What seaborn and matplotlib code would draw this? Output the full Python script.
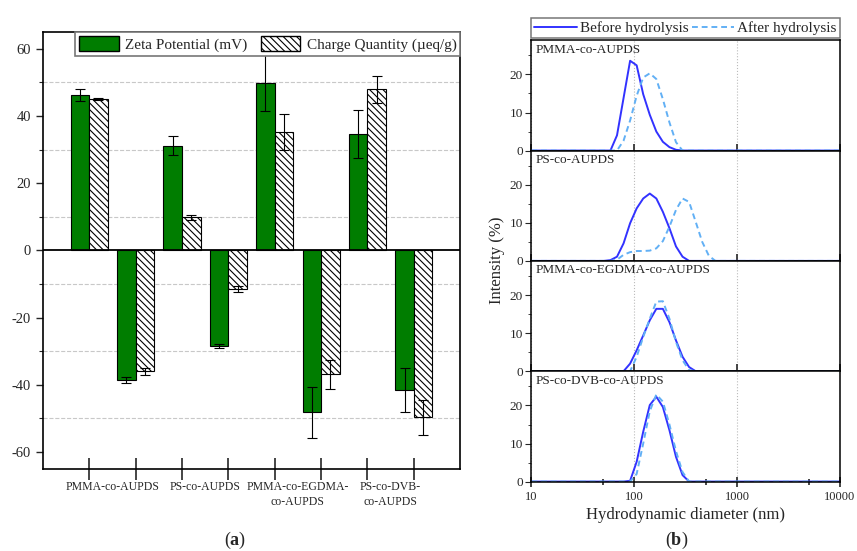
import matplotlib
matplotlib.use("Agg")
import numpy as np
import pandas as pd
import matplotlib.pyplot as plt
import seaborn as sns
from matplotlib.patches import Patch
from matplotlib.lines import Line2D
from matplotlib.ticker import MultipleLocator, FixedLocator, NullFormatter, FuncFormatter

# --- (a) zeta potential / charge quantity ---
materials = ["PMMA-co-AUPDS", "PS-co-AUPDS", "PMMA-co-EGDMA-\nco-AUPDS", "PS-co-DVB-\nco-AUPDS"]
samples = ["PMMA+", "PMMA-", "PS+", "PS-", "EGDMA+", "EGDMA-", "DVB+", "DVB-"]
zeta = [46.2, -38.6, 31.1, -28.4, 49.7, -48.2, 34.7, -41.5]
zeta_err = [1.7, 0.9, 2.8, 0.7, 8.3, 7.7, 7.2, 6.6]
charge = [45.1, -36.0, 9.8, -11.4, 35.3, -36.9, 47.9, -49.7]
charge_err = [0.3, 1.1, 0.8, 0.9, 5.3, 4.3, 4.0, 5.1]

# --- (b) DLS size distributions ---
panel_names = ["PMMA-co-AUPDS", "PS-co-AUPDS", "PMMA-co-EGDMA-co-AUPDS", "PS-co-DVB-co-AUPDS"]
sizes = [10, 50.75, 58.77, 68.06, 78.82, 91.28, 105.7, 122.4, 141.8, 164.2, 190.1,
         220.2, 255.0, 295.3, 342.0, 396.1, 458.7, 531.2, 615.1, 10000]
before = [
    [0, 0, 0, 4.0, 13.8, 23.6, 22.4, 14.8, 9.4, 5.0, 2.3, 0.9, 0.2, 0, 0, 0, 0, 0, 0, 0],
    [0, 0, 0.2, 1.1, 4.6, 9.9, 13.8, 16.4, 17.7, 16.4, 12.9, 8.6, 3.8, 1.1, 0, 0, 0, 0, 0, 0],
    [0, 0, 0, 0, 0, 2.0, 5.5, 9.4, 13.4, 16.4, 16.4, 12.9, 8.1, 3.8, 1.1, 0, 0, 0, 0, 0],
    [0, 0, 0, 0, 0, 0.2, 5.2, 13.1, 20.1, 22.3, 19.6, 13.5, 6.5, 1.7, 0, 0, 0, 0, 0, 0],
]
after = [
    [0, 0, 0, 0, 2.6, 7.9, 14.4, 19.2, 20.3, 18.8, 13.5, 7.4, 2.2, 0, 0, 0, 0, 0, 0, 0],
    [0, 0, 0, 0.3, 1.6, 2.3, 2.6, 2.6, 2.7, 3.3, 5.2, 9.0, 13.4, 16.4, 15.5, 10.3, 5.0, 1.4, 0, 0],
    [0, 0, 0, 0, 0, 0, 3.8, 9.0, 13.8, 18.3, 18.4, 13.8, 7.7, 2.9, 0.3, 0, 0, 0, 0, 0],
    [0, 0, 0, 0, 0, 0, 2.0, 10.0, 18.5, 22.9, 21.0, 15.0, 8.0, 2.5, 0, 0, 0, 0, 0, 0],
]

green = "#007d00"
blue_before = "#3232ff"
blue_after = "#62b0f5"
hatch = "\\\\\\\\\\"

sns.set_style("ticks")
plt.rcParams["font.family"] = ["Liberation Serif", "DejaVu Serif"]
plt.rcParams["axes.unicode_minus"] = False
plt.rcParams["hatch.linewidth"] = 0.8
plt.rcParams["mathtext.fontset"] = "custom"
plt.rcParams["mathtext.rm"] = "Liberation Serif"
plt.rcParams["mathtext.bf"] = "Liberation Serif:bold"

fig = plt.figure(figsize=(8.57, 5.51), dpi=100)

# ---------------- panel (a) ----------------
ax = fig.add_axes([0.050, 0.149, 0.487, 0.793])
df = pd.DataFrame({
    "sample": samples * 2,
    "value": zeta + charge,
    "measure": ["Zeta"] * len(samples) + ["Charge"] * len(samples),
})
sns.barplot(data=df, x="sample", y="value", hue="measure", order=samples,
            hue_order=["Zeta", "Charge"], palette=[green, "white"],
            edgecolor="black", linewidth=0.8, errorbar=None, width=0.8,
            legend=False, saturation=1, ax=ax)
for bar in ax.containers[1]:
    bar.set_hatch(hatch)

for cont, errs in zip(ax.containers, [zeta_err, charge_err]):
    xs = [b.get_x() + b.get_width() / 2 for b in cont]
    ys = [b.get_height() for b in cont]
    ax.errorbar(xs, ys, yerr=errs, fmt="none", ecolor="black",
                elinewidth=0.8, capsize=3.5, capthick=0.8, zorder=3)

ax.axhline(0, color="black", lw=1.3, zorder=4)
ax.set_xlim(-1, 8)
ax.set_ylim(-65, 65)
ax.yaxis.set_major_locator(MultipleLocator(20))
ax.yaxis.set_minor_locator(MultipleLocator(10))
ax.yaxis.grid(True, which="minor", ls="--", color="#c8c8c8", lw=0.8)
ax.set_axisbelow(True)
ax.set_xticks(range(len(samples)))
ax.set_xticklabels([])
ax.set_xticks([0.5, 2.5, 4.5, 6.5], minor=True)
ax.set_xticklabels(materials, minor=True, fontsize=8.5, linespacing=1.3)
ax.tick_params(axis="x", which="major", direction="inout", length=16, width=1.2)
ax.tick_params(axis="x", which="minor", length=0, pad=9)
ax.tick_params(axis="y", which="major", direction="out", length=5, width=1, labelsize=10.5)
ax.tick_params(axis="y", which="minor", direction="out", length=3, width=0.8)
ax.set_xlabel("")
ax.set_ylabel("")
for s in ax.spines.values():
    s.set_visible(True)
    s.set_linewidth(1.2)
    s.set_color("black")

handles = [Patch(facecolor=green, edgecolor="black", label="Zeta Potential (mV)"),
           Patch(facecolor="white", edgecolor="black", hatch=hatch,
                 label="Charge Quantity (\u00b5eq/g)")]
leg = ax.legend(handles=handles, ncol=2, loc="upper right", bbox_to_anchor=(1.0, 1.0),
                frameon=True, fancybox=False, edgecolor="#777777", framealpha=1,
                fontsize=11, handlelength=2.6, handleheight=1.2, borderaxespad=0,
                columnspacing=0.9, handletextpad=0.4, borderpad=0.25)
leg.get_frame().set_linewidth(1.2)
leg.set_zorder(10)

# ---------------- panel (b) ----------------
gs = fig.add_gridspec(4, 1, left=0.620, right=0.980, bottom=0.126, top=0.927, hspace=0)
axes_b = []
for i in range(4):
    axb = fig.add_subplot(gs[i], sharex=axes_b[0] if axes_b else None)
    axes_b.append(axb)
    sns.lineplot(x=sizes, y=before[i], color=blue_before, lw=1.4, ax=axb)
    sns.lineplot(x=sizes, y=after[i], color=blue_after, lw=1.4, ls=(0, (3, 2)), ax=axb)
    axb.set_xscale("log")
    axb.set_xlim(10, 10000)
    axb.set_ylim(0, 29)
    axb.yaxis.set_major_locator(MultipleLocator(10))
    axb.yaxis.set_minor_locator(MultipleLocator(5))
    axb.xaxis.set_major_locator(FixedLocator([10, 100, 1000, 10000]))
    axb.xaxis.set_major_formatter(FuncFormatter(lambda v, p: f"{int(v)}"))
    axb.xaxis.set_minor_locator(FixedLocator([50, 500, 5000]))
    axb.xaxis.set_minor_formatter(NullFormatter())
    axb.grid(axis="x", which="major", ls=":", color="#bbbbbb", lw=0.8)
    axb.tick_params(axis="y", which="major", direction="out", length=4, labelsize=9.5, pad=2)
    axb.tick_params(axis="y", which="minor", direction="out", length=2.5)
    if i < 3:
        axb.tick_params(axis="x", which="major", direction="in", length=5, width=1.2,
                        labelbottom=False)
        axb.tick_params(axis="x", which="minor", length=0)
    else:
        axb.tick_params(axis="x", which="both", direction="inout", width=1.2, labelsize=9)
        axb.tick_params(axis="x", which="major", length=7)
        axb.tick_params(axis="x", which="minor", length=5)
    axb.set_ylabel("")
    for s in axb.spines.values():
        s.set_visible(True)
        s.set_linewidth(1.1)
        s.set_color("black")
    axb.text(0.015, 0.97, panel_names[i], transform=axb.transAxes, va="top",
             ha="left", fontsize=9.5)

axes_b[3].set_xlabel("Hydrodynamic diameter (nm)", fontsize=12, labelpad=3)
fig.text(0.580, 0.527, "Intensity (%)", rotation=90, ha="center", va="center", fontsize=12)

line_handles = [Line2D([], [], color=blue_before, lw=1.4, label="Before hydrolysis"),
                Line2D([], [], color=blue_after, lw=1.4, ls=(0, (3, 2)), label="After hydrolysis")]
legb = axes_b[0].legend(handles=line_handles, ncol=2, loc="lower left",
                        bbox_to_anchor=(0, 1.02, 1, 0.2), mode="expand", frameon=True,
                        fancybox=False, edgecolor="#777777", framealpha=1, fontsize=11,
                        handlelength=2.8, borderaxespad=0, handletextpad=0.2,
                        borderpad=0.2, columnspacing=0.5)
legb.get_frame().set_linewidth(1.1)

fig.text(0.274, 0.02, r"($\mathbf{a}$)", ha="center", va="center", fontsize=13)
fig.text(0.790, 0.02, r"($\mathbf{b}$)", ha="center", va="center", fontsize=13)

fig.savefig("out.png", dpi=100)
